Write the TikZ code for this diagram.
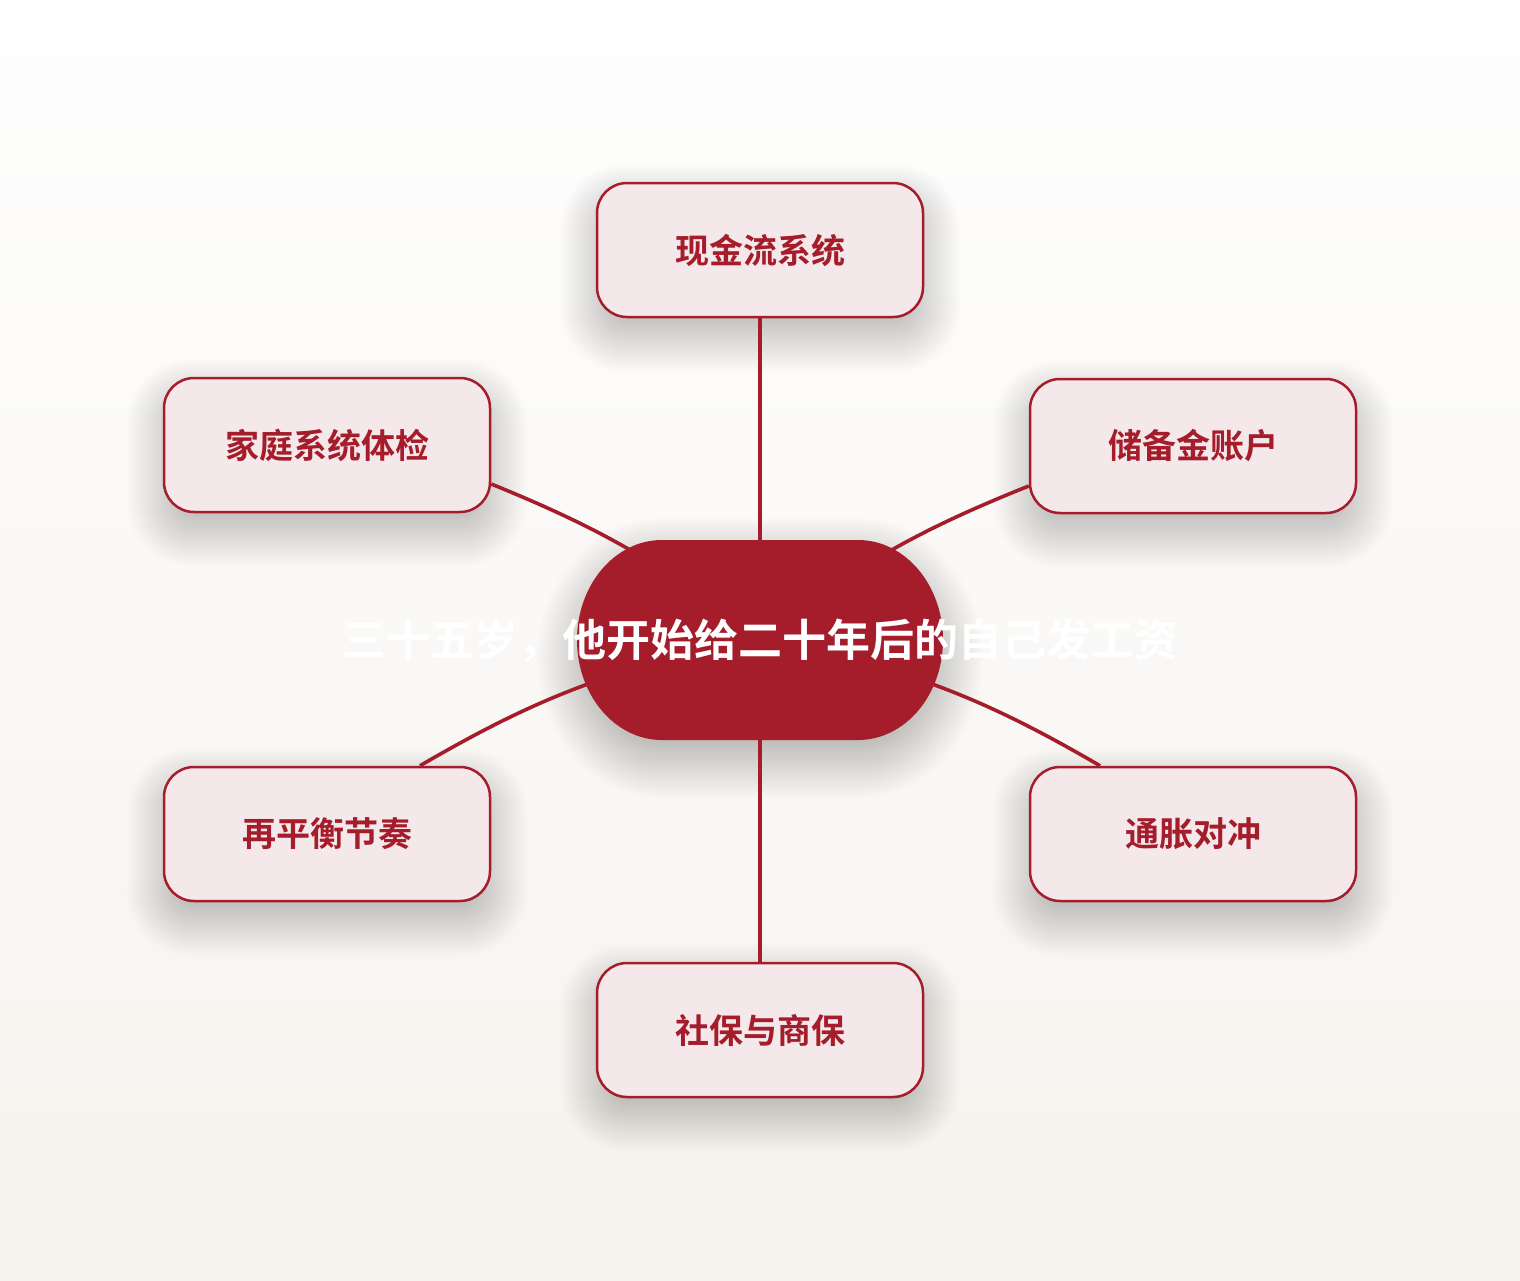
\documentclass[tikz,border=0pt]{standalone}
\usepackage{fontspec}
\setmainfont{Noto Sans CJK SC}
\newfontfamily\cjkb{Noto Sans CJK SC Bold}
\definecolor{brandred}{HTML}{A51C2B}
\definecolor{boxfill}{HTML}{F4E8EA}
\definecolor{bgtop}{HTML}{FEFEFE}
\definecolor{bgbot}{HTML}{F6F3EE}
\pgfdeclarelayer{bglayer}
\pgfdeclarelayer{shadowlayer}
\pgfdeclarelayer{edgelayer}
\pgfsetlayers{bglayer,shadowlayer,edgelayer,main}
\tikzset{
  leaf/.style={draw=brandred, line width=1.25pt, fill=boxfill, rounded corners=15pt,
    minimum width=163pt, minimum height=67pt, inner sep=0pt,
    font=\cjkb\fontsize{17pt}{20pt}\selectfont, text=brandred},
  hub/.style={draw=none, fill=none, minimum width=183pt, minimum height=100pt, inner sep=0pt},
  hubfill/.style={fill=brandred},
  hubtext/.style={font=\cjkb\fontsize{22pt}{26pt}\selectfont, text=white, inner sep=0pt},
  link/.style={draw=brandred, line width=1.8pt},
  softshade/.style={fill=black, opacity=0.0072}
}
\newcommand\leafshadow[1]{%
  \begin{pgfonlayer}{shadowlayer}
  \foreach \ee in {-10,...,18}{%
    \pgfmathsetmacro\rr{15+\ee}%
    \fill[softshade, rounded corners=\rr pt]
      ([shift={(-\ee pt,-\ee pt-9pt)}]#1.south west) rectangle ([shift={(\ee pt,\ee pt-9pt)}]#1.north east);
  }
  \end{pgfonlayer}}
\begin{document}
\begin{tikzpicture}[x=0.5pt,y=0.5pt]
\useasboundingbox (0,0) rectangle (1520,-1280);
\begin{pgfonlayer}{bglayer}
\shade[top color=bgtop, bottom color=bgbot] (0,0) rectangle (1520,-1280);
\end{pgfonlayer}
\node[hub] (c) at (760,-640) {};
\node[leaf] (n1) at (760,-250) {现金流系统};
\node[leaf] (n2) at (327,-445) {家庭系统体检};
\node[leaf] (n3) at (1193,-446) {储备金账户};
\node[leaf] (n4) at (327,-834) {再平衡节奏};
\node[leaf] (n5) at (1193,-834) {通胀对冲};
\node[leaf] (n6) at (760,-1030) {社保与商保};
\leafshadow{n1}\leafshadow{n2}\leafshadow{n3}\leafshadow{n4}\leafshadow{n5}\leafshadow{n6}
% hub shadow
\begin{pgfonlayer}{shadowlayer}
\begin{scope}[shift={([yshift=-9pt]c.center)}]
\foreach \ee in {-10,...,20}{%
  \pgfmathsetmacro\ry{50+\ee}%
  \pgfmathsetmacro\rx{42.5+\ee}%
  \fill[softshade] (-49pt,\ry pt) -- (49pt,\ry pt)
    arc[start angle=90, end angle=-90, x radius=\rx pt, y radius=\ry pt]
    -- (-49pt,-\ry pt)
    arc[start angle=270, end angle=90, x radius=\rx pt, y radius=\ry pt] -- cycle;
}
\end{scope}
\end{pgfonlayer}
% hub body
\begin{scope}[shift={(c.center)}]
\fill[hubfill] (-49pt,50pt) -- (49pt,50pt)
  arc[start angle=90, end angle=-90, x radius=42.5pt, y radius=50pt]
  -- (-49pt,-50pt)
  arc[start angle=270, end angle=90, x radius=42.5pt, y radius=50pt] -- cycle;
\end{scope}
\node[hubtext] (ct) at (760,-641) {三十五岁，他开始给二十年后的自己发工资};
\begin{pgfonlayer}{edgelayer}
\draw[link] (c.center) -- (n1);
\draw[link] (c.center) -- (n6);
\draw[link] (c.center) to[bend right=8] ([yshift=-19.5pt]n2.east);
\draw[link] (c.center) to[bend left=8] ([yshift=-20pt]n3.west);
\draw[link] (c.center) to[bend right=10] ([xshift=46.5pt]n4.north);
\draw[link] (c.center) to[bend left=10] ([xshift=-46.5pt]n5.north);
\end{pgfonlayer}
\end{tikzpicture}
\end{document}
